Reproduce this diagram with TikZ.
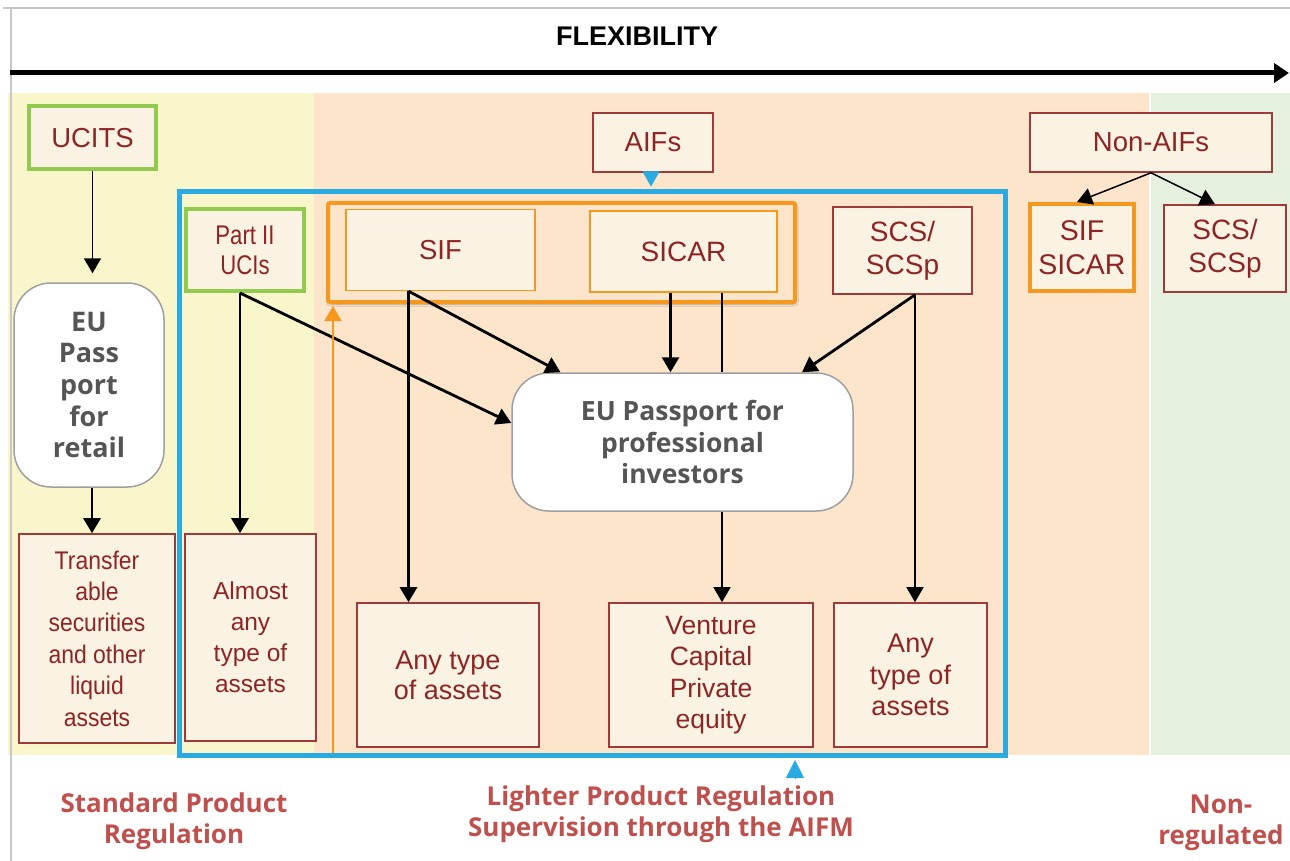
\documentclass[tikz,border=0pt]{standalone}
\usepackage{fontspec}
\setmainfont{Liberation Sans}
\newfontfamily\nar[FakeStretch=0.9]{Liberation Sans}
\newfontfamily\narr[FakeStretch=0.82]{Liberation Sans}
\newfontfamily\opb{Open Sans}
\usetikzlibrary{arrows.meta,shadows.blur}
\definecolor{cream}{HTML}{FAF3E3}
\definecolor{boxred}{HTML}{9E3A38}
\definecolor{txtred}{HTML}{8E2525}
\definecolor{ucgreen}{HTML}{92C94F}
\definecolor{orng}{HTML}{F7981E}
\definecolor{fblue}{HTML}{29ABE2}
\definecolor{yel}{HTML}{FAF6CC}
\definecolor{peach}{HTML}{FDE5CC}
\definecolor{grn}{HTML}{E6F0DE}
\definecolor{passgray}{HTML}{555555}
\definecolor{lblred}{HTML}{C0504D}
\tikzset{
  box/.style={draw=boxred, fill=cream, line width=1.6pt, text=txtred, inner sep=0pt, align=center, font=\fontsize{27.5}{31}\selectfont},
  gbox/.style={box, draw=ucgreen, line width=4pt},
  obox/.style={box, draw=orng, line width=1.3pt},
  pass/.style={draw=gray!75, fill=white, rounded corners=37pt, line width=1.5pt, text=passgray, inner sep=0pt, align=center, font=\opb\bfseries\fontsize{26.5}{31.3}\selectfont},
  arr/.style={-{Triangle[width=17pt,length=15pt]}, line width=2.8pt},
  tarr/.style={-{Triangle[width=17pt,length=15pt]}, line width=1.5pt},
  lbl/.style={text=lblred, align=center, font=\opb\bfseries\fontsize{26}{31}\selectfont},
}
\begin{document}
\begin{tikzpicture}[x=1pt,y=-1pt]
\useasboundingbox (0,0) rectangle (1290,861);
\fill[white] (0,0) rectangle (1290,861);
% background bands
\fill[yel] (8,93) rectangle (314,755);
\fill[peach] (314,93) rectangle (1149,755);
\fill[grn] (1151,93) rectangle (1290,755);
\draw[black!22, line width=1.5pt] (3,8) -- (1290,8);
\draw[black!22, line width=1.5pt] (11,8) -- (11,861);
% flexibility axis
\node[font=\bfseries\fontsize{27}{31}\selectfont, anchor=base] (flex) at (637,46) {FLEXIBILITY};
\coordinate (ax0) at (10,73);
\coordinate (ax1) at (1289,73);
\draw[line width=5pt, -{Triangle[width=19pt,length=15pt]}] (ax0) -- (ax1);
% blue frame
\node[draw=fblue, line width=5pt, minimum width=825.5pt, minimum height=563.5pt, inner sep=0pt] (frame) at (592.25,473.25) {};
% orange group
\node[draw=orng, fill=peach, line width=4pt, rounded corners=2pt, minimum width=467pt, minimum height=99pt, inner sep=0pt,
  blur shadow={shadow xshift=1pt, shadow yshift=-2pt, shadow opacity=35, shadow blur steps=6}] (grp) at (561.5,252.5) {};
% nodes
\node[gbox, minimum width=127pt, minimum height=63pt] (ucits) at (92.5,138) {UCITS};
\node[pass, minimum width=150pt, minimum height=204pt, font=\opb\bfseries\fontsize{27}{31.6}\selectfont] (eupr) at (89,385) {EU\\Pass\\port\\for\\retail};
\node[box, minimum width=156pt, minimum height=209pt, font=\nar\fontsize{25.5}{31.4}\selectfont] (transfer) at (97,638.5) {Transfer\\able\\securities\\and other\\liquid\\assets};
\node[gbox, minimum width=118pt, minimum height=82pt, font=\narr\fontsize{27}{30}\selectfont] (partII) at (245,250) {Part II\\UCIs};
\node[box, minimum width=131pt, minimum height=207pt, font=\fontsize{24.5}{31}\selectfont] (almost) at (250.5,637.5) {Almost\\any\\type of\\assets};
\node[obox, minimum width=189pt, minimum height=81pt] (sif) at (440.5,250) {SIF};
\node[obox, minimum width=187pt, minimum height=81pt, font=\fontsize{28}{31}\selectfont] (sicar) at (683.5,251.5) {SICAR};
\node[box, minimum width=139pt, minimum height=87pt, font=\fontsize{28}{33}\selectfont] (scs1) at (902.5,250.5) {SCS/\\SCSp};
\node[box, minimum width=120pt, minimum height=59pt] (aifs) at (653,142.5) {AIFs};
\node[box, minimum width=242pt, minimum height=59pt] (nonaifs) at (1151,142.5) {Non-AIFs};
\node[box, draw=orng, line width=4pt, minimum width=104pt, minimum height=87pt, font=\fontsize{28.5}{34}\selectfont] (sifsicar) at (1082,247.5) {SIF\\SICAR};
\node[box, minimum width=122pt, minimum height=87pt, font=\fontsize{28}{33}\selectfont] (scs2) at (1225,248.5) {SCS/\\SCSp};
\node[pass, minimum width=341pt, minimum height=138pt] (eupp) at (682.5,442) {EU Passport for\\professional\\investors};
\node[box, minimum width=182pt, minimum height=144pt, font=\fontsize{27}{30}\selectfont] (any1) at (448,675) {Any type\\of assets};
\node[box, minimum width=204pt, minimum height=144pt, font=\fontsize{26.5}{31.5}\selectfont] (venture) at (711,675) {Venture\\Capital\\Private\\equity};
\node[box, minimum width=153pt, minimum height=144pt, font=\fontsize{27}{31.5}\selectfont] (any2) at (910.5,675) {Any\\type of\\assets};
% bottom labels
\node[lbl] (std) at (174,821) {Standard Product\\Regulation};
\node[lbl] (light) at (661,814) {Lighter Product Regulation\\Supervision through the AIFM};
\node[lbl] (nonreg) at (1221,823) {Non-\\regulated};
% connectors
\draw[tarr, line width=1.8pt, shorten >=9pt] (ucits.south) -- (ucits.south |- eupr.north);
\draw[arr] ([xshift=3pt]eupr.south) -- ([xshift=3pt]eupr.south |- transfer.north);
\draw[arr] ([xshift=-5pt]partII.south) -- ([xshift=-5pt]partII.south |- almost.north);
\draw[arr] ([xshift=-5pt]partII.south) -- ([yshift=19pt]eupp.west);
\draw[arr] ([xshift=-32pt]sif.south) -- ([xshift=-32pt]sif.south |- any1.north);
\draw[arr] ([xshift=-32pt]sif.south) -- ([xshift=-122pt]eupp.north);
\draw[arr] ([xshift=-13pt]sicar.south) -- ([xshift=-13pt]sicar.south |- eupp.north);
\draw[line width=1.5pt] ([xshift=38.5pt]sicar.south) -- ([xshift=38.5pt]sicar.south |- eupp.north);
\draw[tarr] ([xshift=39.5pt]eupp.south) -- ([xshift=39.5pt]eupp.south |- venture.north);
\draw[arr] ([xshift=12.5pt]scs1.south) -- ([xshift=119.5pt]eupp.north);
\draw[tarr] ([xshift=12.5pt]scs1.south) -- ([xshift=12.5pt]scs1.south |- any2.north);
\draw[tarr] (nonaifs.south) -- ([xshift=-5pt]sifsicar.north);
\draw[tarr] (nonaifs.south) -- ([xshift=-10pt]scs2.north);
% blue markers
\draw[fblue, line width=0.5pt, -{Triangle[width=17pt,length=15pt]}, shorten >=2.5pt] ([xshift=-2pt]aifs.south) -- ([xshift=-2pt]aifs.south |- frame.north);
\coordinate (bq) at (795,778);
\draw[fblue, line width=0.5pt, -{Triangle[width=18pt,length=18pt]}, shorten >=2.5pt] (bq) -- (bq |- frame.south);
% orange arrow
\coordinate (ob) at (333,753);
\draw[orng, line width=2pt, -{Triangle[width=17pt,length=15pt]}, shorten >=2pt] (ob) -- (ob |- grp.south);
\end{tikzpicture}
\end{document}
